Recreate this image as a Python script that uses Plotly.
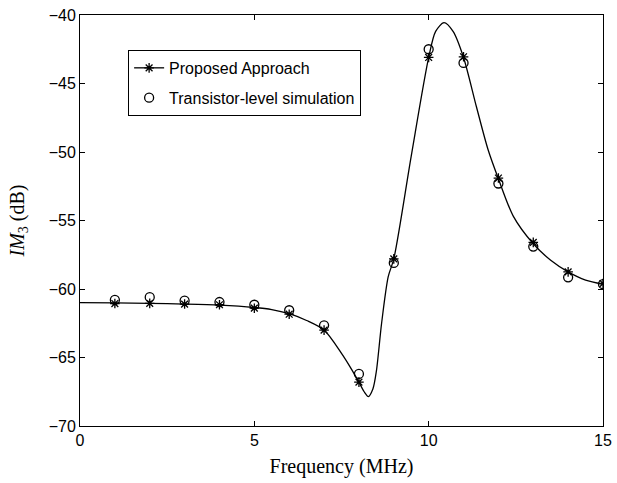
import plotly.graph_objects as go

# Smooth model curve (Proposed Approach)
curve_f = [0, 1, 2, 3, 4, 5, 5.5, 6, 6.5, 7, 7.5, 7.75, 8, 8.15, 8.27, 8.4, 8.5,
           8.65, 8.84, 9, 9.5, 10, 10.2, 10.44, 10.7, 11, 11.37, 11.7, 12, 12.43,
           13, 13.5, 14, 14.5, 15]
curve_v = [-61.0, -61.02, -61.05, -61.1, -61.18, -61.35, -61.5, -61.8, -62.3, -63.0,
           -64.7, -65.7, -66.8, -67.5, -67.85, -67.3, -66.0, -62.5, -59.1, -57.8,
           -50.3, -43.1, -41.2, -40.56, -41.2, -43.1, -46.7, -49.8, -51.95, -54.7,
           -56.7, -57.9, -58.75, -59.35, -59.65]

# Markers at integer frequencies
freq = [1, 2, 3, 4, 5, 6, 7, 8, 9, 10, 11, 12, 13, 14, 15]
proposed = [-61.06, -61.05, -61.1, -61.15, -61.4, -61.84, -63.0, -66.8, -57.8,
            -43.1, -43.05, -51.9, -56.6, -58.75, -59.6]
transistor = [-60.8, -60.6, -60.85, -60.95, -61.15, -61.55, -62.65, -66.2, -58.1,
              -42.5, -43.5, -52.3, -56.9, -59.15, -59.65]

x_ticks = [0, 5, 10, 15]
y_ticks = [-70, -65, -60, -55, -50, -45, -40]
y_ticktext = ["\u221270", "\u221265", "\u221260", "\u221255", "\u221250", "\u221245", "\u221240"]

fig = go.Figure()
fig.add_trace(go.Scatter(x=curve_f, y=curve_v, mode="lines",
                         line=dict(color="black", width=1.3, shape="spline", smoothing=0.8),
                         showlegend=False, hoverinfo="skip"))
fig.add_trace(go.Scatter(x=freq, y=proposed, mode="markers",
                         marker=dict(symbol="asterisk-open", size=8, color="black",
                                     line=dict(color="black", width=1.3)),
                         showlegend=False))
fig.add_trace(go.Scatter(x=[None], y=[None], mode="lines+markers", name="Proposed Approach",
                         legendgroup="a",
                         line=dict(color="black", width=1.3),
                         marker=dict(symbol="asterisk-open", size=8, color="black",
                                     line=dict(color="black", width=1.3))))
fig.add_trace(go.Scatter(x=freq, y=transistor, mode="markers", name="Transistor-level simulation",
                         legendgroup="b",
                         marker=dict(symbol="circle-open", size=9, color="black",
                                     line=dict(color="black", width=1.3))))

axis_common = dict(showgrid=False, zeroline=False, showline=True, linecolor="black",
                   linewidth=1, mirror="ticks", ticks="inside", ticklen=5,
                   tickcolor="black", automargin=False,
                   tickfont=dict(family="Liberation Sans, Arial", size=16, color="black"))

fig.update_layout(
    width=617, height=483,
    margin=dict(l=80, r=14, t=15, b=57),
    paper_bgcolor="white", plot_bgcolor="white",
    xaxis=dict(range=[0, 15], tickvals=x_ticks, ticktext=[str(t) for t in x_ticks],
               title=dict(text="Frequency (MHz)", standoff=10,
                          font=dict(family="Liberation Serif, Times New Roman", size=20, color="black")),
               **axis_common),
    yaxis=dict(range=[-70, -40], tickvals=y_ticks, ticktext=y_ticktext,
               title=dict(text="<i>IM</i><sub>3</sub> (dB)", standoff=18,
                          font=dict(family="Liberation Serif, Times New Roman", size=20, color="black")),
               **axis_common),
    legend=dict(x=0.092, y=0.915, xanchor="left", yanchor="top",
                bgcolor="white", bordercolor="black", borderwidth=1,
                font=dict(family="Liberation Sans, Arial", size=16, color="black"),
                tracegroupgap=6),
)

fig.write_html("out.html", config={"displayModeBar": False},
               post_script="document.body.style.margin='0';")
